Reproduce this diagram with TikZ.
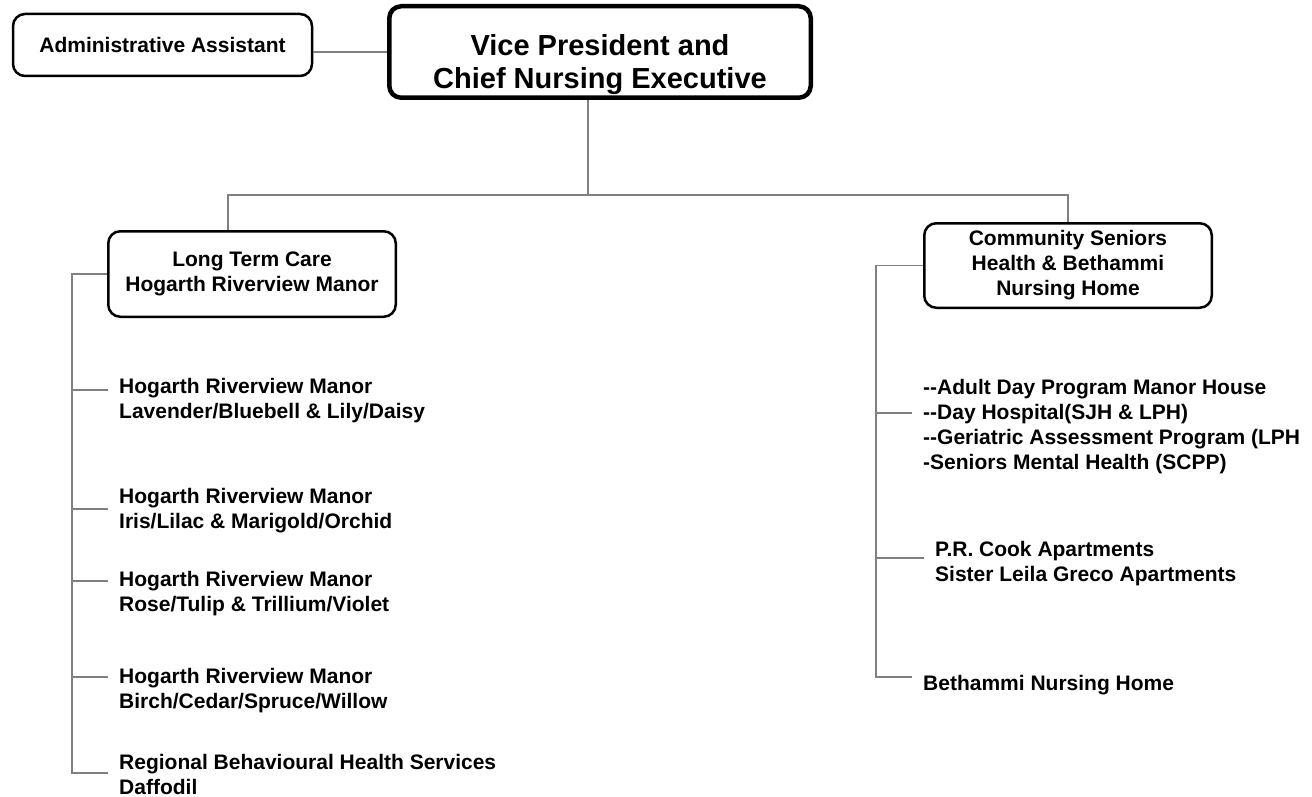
\documentclass[tikz,border=0pt]{standalone}
\usepackage{fontspec}
\setmainfont{Liberation Sans}
\usepackage{xcolor}
\usepackage{tikz}
\usetikzlibrary{calc}

\definecolor{linegray}{RGB}{128,128,128}

\tikzset{
    box/.style={draw=black, line width=2.5pt, rounded corners=12pt, fill=white, align=center, inner sep=0pt,
        font=\fontsize{21}{25}\selectfont\bfseries},
    conn/.style={draw=linegray, line width=1.3pt},
    item/.style={anchor=west, align=left, inner sep=0pt, font=\fontsize{21}{25}\selectfont\bfseries}
}

\begin{document}
\begin{tikzpicture}[x=1pt, y=-1pt]
        \useasboundingbox (0,0) rectangle (1312,797);

        % top row
        \node[box, minimum width=299pt, minimum height=62pt] (admin) at (162.5,45) {Administrative Assistant};
        \node[box, line width=4.5pt, minimum width=421.5pt, minimum height=91.5pt,
              font=\fontsize{29}{33}\selectfont\bfseries] (vp) at (600,52)
              {\rule{0pt}{46pt}Vice President and\\Chief Nursing Executive};
        \draw[conn] (vp.west) -- (vp.west -| admin.east);

        % second row
        \node[box, minimum width=287.5pt, minimum height=85.5pt] (ltc) at (252,274) {Long Term Care\\Hogarth Riverview Manor};
        \node[box, minimum width=287.5pt, minimum height=84.5pt] (csh) at (1068,265.5) {Community Seniors\\Health \& Bethammi\\Nursing Home};

        \coordinate (hub) at (588,195);
        \coordinate (lt) at (228,195);
        \coordinate (rt) at (1068,195);
        \draw[conn] (hub |- vp.south) -- (hub);
        \draw[conn] (lt |- ltc.north) -- (lt) -- (rt) -- (csh.north);

        % long term care units
        \node[item] (it1) at (119,401) {Hogarth Riverview Manor\\Lavender/Bluebell \& Lily/Daisy};
        \node[item] (it2) at (119,511) {Hogarth Riverview Manor\\Iris/Lilac \& Marigold/Orchid};
        \node[item] (it3) at (119,594) {Hogarth Riverview Manor\\Rose/Tulip \& Trillium/Violet};
        \node[item] (it4) at (119,691) {Hogarth Riverview Manor\\Birch/Cedar/Spruce/Willow};
        \node[item] (it5) at (119,774) {Regional Behavioural Health Services\\Daffodil};

        \coordinate (lb1) at (108,390);
        \coordinate (lb2) at (108,509);
        \coordinate (lb3) at (108,581);
        \coordinate (lb4) at (108,677);
        \coordinate (lb5) at (108,773);
        \draw[conn] (ltc.west) -- ++(-35,0) |- (lb5);
        \foreach \b in {lb1,lb2,lb3,lb4}
            \draw[conn] (\b) -- ++(-36,0);

        % community seniors programs
        \node[item] (rt1) at (923,427) {-{}-Adult Day Program Manor House\\-{}-Day Hospital(SJH \& LPH)\\-{}-Geriatric Assessment Program (LPH\\-Seniors Mental Health (SCPP)};
        \node[item] (rt2) at (935,564) {P.R. Cook Apartments\\Sister Leila Greco Apartments};
        \node[item] (rt3) at (923,685) {Bethammi Nursing Home};

        \coordinate (rb1) at (912,413);
        \coordinate (rb2) at (924,558);
        \coordinate (rb3) at (912,677);
        \draw[conn] (csh.west) -- ++(-47,0) |- (rb3);
        \draw[conn] (rb1) -- ++(-36,0);
        \draw[conn] (rb2) -- ++(-48,0);
\end{tikzpicture}
\end{document}
